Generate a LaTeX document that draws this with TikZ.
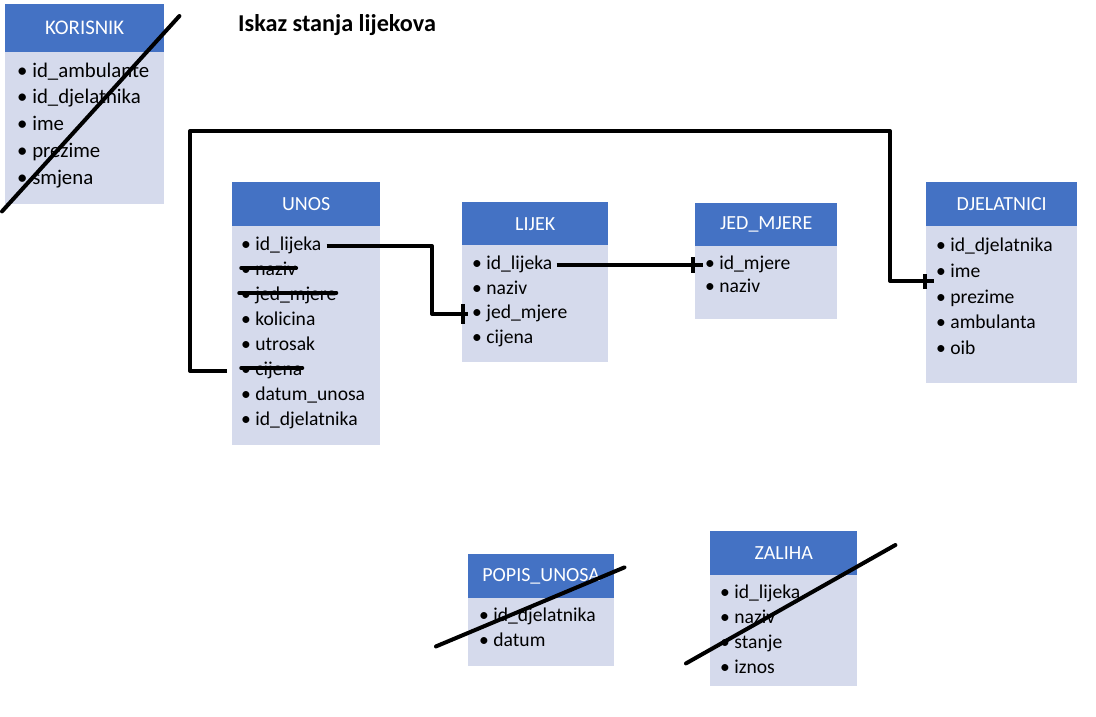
\documentclass[tikz,border=0pt]{standalone}
\usepackage{fontspec}
\setmainfont{Carlito}
\definecolor{hdrblue}{RGB}{68,114,196}
\definecolor{bodyblue}{RGB}{213,218,236}
\begin{document}
\begin{tikzpicture}[x=1pt,y=-1pt,
  hdr/.style={fill=hdrblue,text=white,inner sep=0pt,anchor=north west,font=\fontsize{20}{22}\selectfont},
  bodybox/.style={fill=bodyblue,inner sep=0pt,anchor=north west},
  item/.style={anchor=west,inner sep=0pt,text height=13pt,text depth=4pt,font=\fontsize{19.6}{22}\selectfont},
  bigitem/.style={item,font=\fontsize{20.8}{24}\selectfont},
  conn/.style={line width=4pt,line join=round},
  tick/.style={line width=4pt},
  strike/.style={line width=3.5pt,line cap=round},
  slash/.style={line width=4pt,line cap=round}]
\useasboundingbox (0,0) rectangle (1096,717);
\fill[white] (0,0) rectangle (1096,717);

% KORISNIK
\node[hdr,minimum width=159pt,minimum height=48pt,font=\fontsize{20.8}{23}\selectfont] (korh) at (5,4) {KORISNIK};
\node[bodybox,minimum width=159pt,minimum height=152pt] (korb) at (5,52) {};
\node[bigitem] (k1) at (17,73) {• id\_ambulante};
\node[bigitem] (k2) at (17,99) {• id\_djelatnika};
\node[bigitem] (k3) at (17,126) {• ime};
\node[bigitem] (k4) at (17,153) {• prezime};
\node[bigitem] (k5) at (17,180) {• smjena};

% title
\node[anchor=west,inner sep=0pt,font=\fontsize{24.2}{28}\selectfont\bfseries] (title) at (238,25) {Iskaz stanja lijekova};

% UNOS
\node[hdr,minimum width=148pt,minimum height=44pt] (unosh) at (232,182) {UNOS};
\node[bodybox,minimum width=148pt,minimum height=219pt] (unosb) at (232,226) {};
\node[item] (u1) at (241,246) {• id\_lijeka};
\node[item] (u2) at (241,271) {• naziv};
\node[item] (u3) at (241,296) {• jed\_mjere};
\node[item] (u4) at (241,321) {• kolicina};
\node[item] (u5) at (241,346) {• utrosak};
\node[item] (u6) at (241,371) {• cijena};
\node[item] (u7) at (241,396) {• datum\_unosa};
\node[item] (u8) at (241,421) {• id\_djelatnika};

% LIJEK
\node[hdr,minimum width=146pt,minimum height=43pt] (lijh) at (462,202) {LIJEK};
\node[bodybox,minimum width=146pt,minimum height=117pt] (lijb) at (462,245) {};
\node[item] (l1) at (472,265) {• id\_lijeka};
\node[item] (l2) at (472,290) {• naziv};
\node[item] (l3) at (472,314) {• jed\_mjere};
\node[item] (l4) at (472,339) {• cijena};

% JED_MJERE
\node[hdr,minimum width=142pt,minimum height=43pt] (jedh) at (695,203) {JED\_MJERE};
\node[bodybox,minimum width=142pt,minimum height=73pt] (jedb) at (695,246) {};
\node[item] (j1) at (705,265) {• id\_mjere};
\node[item] (j2) at (705,288) {• naziv};

% DJELATNICI
\node[hdr,minimum width=151pt,minimum height=44pt] (djeh) at (926,182) {DJELATNICI};
\node[bodybox,minimum width=151pt,minimum height=157pt] (djeb) at (926,226) {};
\node[item] (d1) at (936,247) {• id\_djelatnika};
\node[item] (d2) at (936,273) {• ime};
\node[item] (d3) at (936,299) {• prezime};
\node[item] (d4) at (936,324) {• ambulanta};
\node[item] (d5) at (936,350) {• oib};

% POPIS_UNOSA
\node[hdr,minimum width=146pt,minimum height=44pt] (poph) at (468,554) {POPIS\_UNOSA};
\node[bodybox,minimum width=146pt,minimum height=68pt] (popb) at (468,598) {};
\node[item] (p1) at (479,617) {• id\_djelatnika};
\node[item] (p2) at (479,642) {• datum};

% ZALIHA
\node[hdr,minimum width=147pt,minimum height=44pt] (zalh) at (710,531) {ZALIHA};
\node[bodybox,minimum width=147pt,minimum height=111pt] (zalb) at (710,575) {};
\node[item] (z1) at (720,594) {• id\_lijeka};
\node[item] (z2) at (720,619) {• naziv};
\node[item] (z3) at (720,644) {• stanje};
\node[item] (z4) at (720,669) {• iznos};

% strike-throughs in UNOS
\draw[strike] ([yshift=3pt]u2.west) -- ([yshift=3pt]u2.east);
\draw[strike] ([yshift=3pt,xshift=-2pt]u3.west) -- ([yshift=3pt]u3.east);
\draw[strike] ([yshift=3pt]u6.west) -- ([yshift=3pt]u6.east);

% connector UNOS.id_lijeka -> LIJEK.jed_mjere
\coordinate (x1) at (432,0);
\draw[conn] ([xshift=5pt]u1.east) -- (u1.east -| x1) |- ([xshift=-4pt]l3.west);
\draw[tick] ([xshift=-9pt,yshift=10pt]l3.west) -- ([xshift=-9pt,yshift=-10pt]l3.west);

% connector LIJEK.id_lijeka -> JED_MJERE.id_mjere
\draw[conn] ([xshift=4pt]l1.east) -- ([xshift=-2pt]j1.west);
\draw[tick] ([xshift=-12pt,yshift=8pt]j1.west) -- ([xshift=-12pt,yshift=-8pt]j1.west);

% connector UNOS.cijena -> DJELATNICI.ime
\coordinate (x2) at (190,131);
\coordinate (x3) at (890,131);
\draw[conn] ([xshift=-14pt]u6.west) -| (x2) -- (x3) |- ([xshift=-2pt,yshift=-8pt]d2.west);
\draw[tick] ([xshift=-11pt,yshift=-1pt]d2.west) -- ([xshift=-11pt,yshift=-16pt]d2.west);

% cross-out slashes
\draw[slash] ([xshift=-3pt,yshift=-7pt]korb.south west) -- ([xshift=15pt,yshift=-12pt]korh.north east);
\draw[slash] ([xshift=-32pt,yshift=20pt]popb.south west) -- ([xshift=10pt,yshift=31pt]poph.south east);
\draw[slash] ([xshift=-24pt,yshift=23pt]zalb.south west) -- ([xshift=38pt,yshift=-14pt]zalh.north east);
\end{tikzpicture}
\end{document}
